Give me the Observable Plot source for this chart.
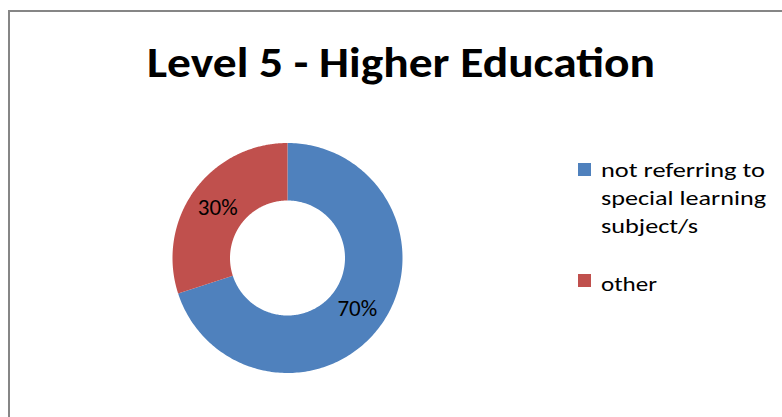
<!DOCTYPE html>
<html>
<head>
<meta charset="utf-8">
<script src="https://cdn.jsdelivr.net/npm/d3@7"></script>
<script src="https://cdn.jsdelivr.net/npm/@observablehq/plot@0.6"></script>
<style>
  html, body { margin: 0; padding: 0; background: #fff; }
  #wrap { position: relative; width: 782px; height: 417px; overflow: hidden; background: #fff; }
  #frame { position: absolute; left: 8px; top: 10px; width: 900px; height: 600px; border-left: 2px solid #868686; border-top: 2px solid #868686; box-sizing: border-box; }
  #plot, #overlay { position: absolute; left: 0; top: 0; }
  svg text { font-family: Carlito, Lato, "Open Sans", sans-serif; }
</style>
</head>
<body>
<div id="wrap">
  <div id="frame"></div>
  <div id="plot"></div>
  <svg id="overlay" width="782" height="417"></svg>
</div>
<script>
// ---- data ----
const title = "Level 5 - Higher Education";
const categories = ["not referring to special learning subject/s", "other"];
const values = [70, 30];
const percentLabels = ["70%", "30%"];
const legendLines = [["not referring to", "special learning", "subject/s"], ["other"]];
const colors = ["#4F81BD", "#C0504D"];

// ---- donut geometry through Plot scales ----
const innerR = 0.5, outerR = 1, labelR = 0.75;
const arcs = d3.pie().sort(null).value(d => d)(values);
const ring = [];
arcs.forEach((a, i) => {
  const n = 240;
  for (let k = 0; k <= n; k++) {
    const t = a.startAngle + (a.endAngle - a.startAngle) * k / n;
    ring.push({cat: categories[i], x: outerR * Math.sin(t), y: outerR * Math.cos(t)});
  }
  for (let k = n; k >= 0; k--) {
    const t = a.startAngle + (a.endAngle - a.startAngle) * k / n;
    ring.push({cat: categories[i], x: innerR * Math.sin(t), y: innerR * Math.cos(t)});
  }
});
const labelData = arcs.map((a, i) => {
  const m = (a.startAngle + a.endAngle) / 2;
  return {text: percentLabels[i], x: labelR * Math.sin(m), y: labelR * Math.cos(m)};
});

const chart = Plot.plot({
  width: 782,
  height: 417,
  margin: 0,
  style: {background: "transparent", overflow: "visible"},
  x: {domain: [-1, 1], range: [172, 402], axis: null},
  y: {domain: [-1, 1], range: [372.5, 142.5], axis: null},
  color: {domain: categories, range: colors},
  marks: [
    Plot.line(ring, {x: "x", y: "y", z: "cat", fill: "cat", stroke: "none", curve: "linear"}),
    Plot.text(labelData, {x: "x", y: "y", text: "text", fontSize: 23, fill: "#000", fontFamily: "Carlito, Lato, 'Open Sans', sans-serif"})
  ]
});
document.getElementById("plot").appendChild(chart);

// ---- title & legend ----
const ov = d3.select("#overlay");
function fitText(sel, target) {
  const w = sel.node().getComputedTextLength();
  if (Math.abs(w - target) > 1) sel.attr("textLength", target).attr("lengthAdjust", "spacingAndGlyphs");
}
const t = ov.append("text")
  .attr("x", 147).attr("y", 77)
  .attr("font-size", 42).attr("font-weight", "bold").attr("fill", "#000")
  .text(title);
fitText(t, 508);

const lineWidths = [[164, 165, 97], [56]];
const itemTop = [163, 274];
const firstBase = [177, 291];
legendLines.forEach((lines, i) => {
  ov.append("rect").attr("x", 578).attr("y", itemTop[i]).attr("width", 13).attr("height", 13).attr("fill", colors[i]);
  lines.forEach((ln, j) => {
    const tx = ov.append("text")
      .attr("x", 601).attr("y", firstBase[i] + j * 28)
      .attr("font-size", 21).attr("fill", "#000")
      .text(ln);
    fitText(tx, lineWidths[i][j]);
  });
});
</script>
</body>
</html>
